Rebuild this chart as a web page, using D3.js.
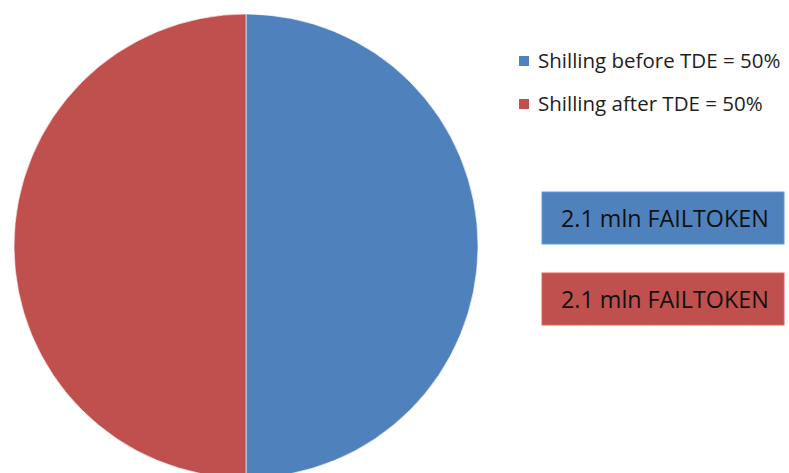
<!DOCTYPE html>
<html>
<head>
<meta charset="utf-8">
<script src="https://cdn.jsdelivr.net/npm/d3@7/dist/d3.min.js"></script>
<style>
  html, body { margin: 0; padding: 0; background: #fff; }
  svg { display: block; }
</style>
</head>
<body>
<svg id="chart" width="789" height="473"></svg>
<script>
// Shilling share before / after TDE
const categories = ["Shilling before TDE", "Shilling after TDE"];
const shares = [50, 50];
const tokenLabels = ["2.1 mln FAILTOKEN", "2.1 mln FAILTOKEN"];
const colors = ["#4F81BD", "#C0504D"];

const svg = d3.select("#chart");
const font = "'Open Sans', sans-serif";

// Pie
const cx = 246, cy = 246, radius = 232;
const pie = d3.pie().sort(null).value(d => d.value);
const arc = d3.arc().innerRadius(0).outerRadius(radius);
const pieData = pie(categories.map((c, i) => ({ name: c, value: shares[i], color: colors[i] })));

svg.append("g")
  .attr("transform", `translate(${cx},${cy})`)
  .selectAll("path")
  .data(pieData)
  .join("path")
  .attr("d", arc)
  .attr("fill", d => d.data.color)
  .attr("stroke", "#ffffff")
  .attr("stroke-width", 0.6);

// Legend
const legend = svg.append("g").attr("transform", "translate(519,56)");
const rows = legend.selectAll("g")
  .data(pieData)
  .join("g")
  .attr("transform", (d, i) => `translate(0,${i * 43})`);
rows.append("rect")
  .attr("width", 10).attr("height", 10)
  .attr("fill", d => d.data.color);
rows.append("text")
  .attr("x", 19).attr("y", 12)
  .attr("font-family", font)
  .attr("font-size", 20.5)
  .attr("fill", "#1e1e1e")
  .text(d => `${d.data.name} = ${d.data.value}%`);

// Token boxes
const boxes = svg.append("g").attr("transform", "translate(542,192)");
const box = boxes.selectAll("g")
  .data(tokenLabels)
  .join("g")
  .attr("transform", (d, i) => `translate(0,${i * 81})`);
box.append("rect")
  .attr("width", 242).attr("height", 52)
  .attr("fill", (d, i) => colors[i])
  .attr("stroke", (d, i) => d3.color(colors[i]).brighter(0.5))
  .attr("stroke-width", 1);
box.append("text")
  .attr("x", 19).attr("y", 35)
  .attr("font-family", font)
  .attr("font-size", 23.3)
  .attr("fill", "#111")
  .text(d => d);
</script>
</body>
</html>
